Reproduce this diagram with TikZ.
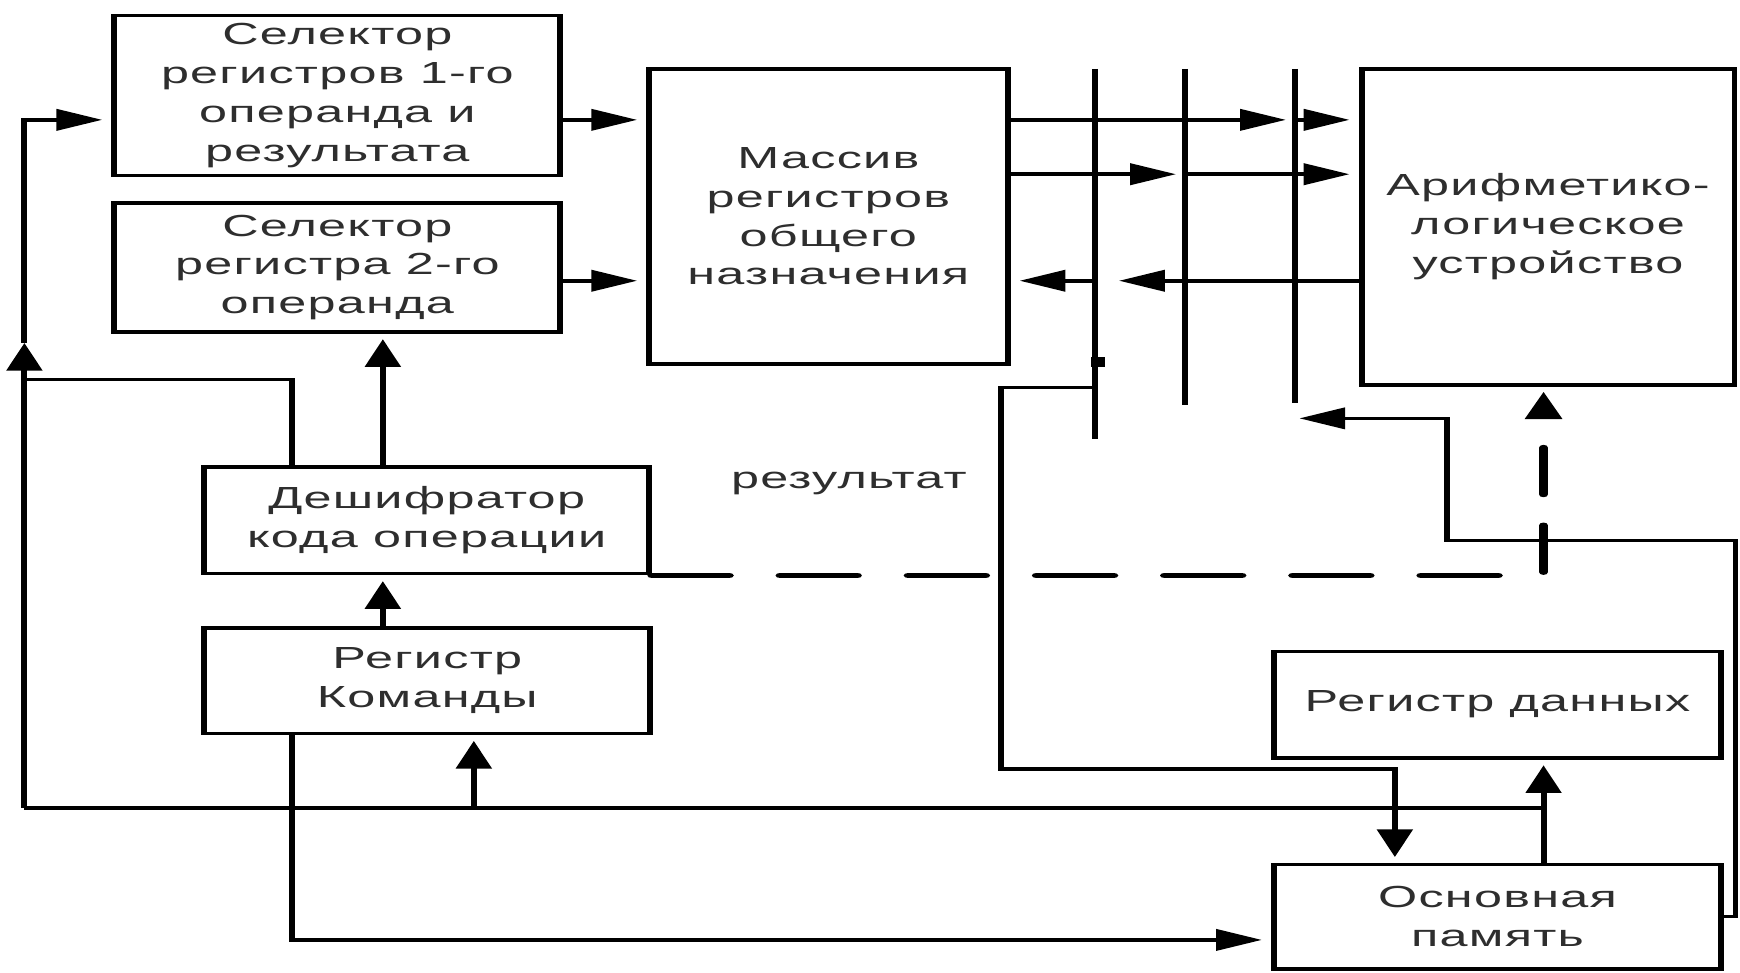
\documentclass[tikz,border=0pt]{standalone}
\usepackage{fontspec}
\setmainfont{Liberation Sans}[LetterSpace=2.5]
\usetikzlibrary{arrows.meta}

\begin{document}
\begin{tikzpicture}[x=0.5pt,y=-0.5pt]
\fill[white] (0,0) rectangle (1568,876);
\useasboundingbox (0,0) rectangle (1568,876);
% the whole scheme is drawn narrow and stretched sideways
\begin{scope}[transform canvas={xscale=1.65}, x=0.303030pt, y=-0.5pt,
  line width=1.6pt,
  txt/.style={inner sep=0pt, align=center, text=black!82, font=\fontsize{13.75pt}{17.5pt}\selectfont},
  bx/.style 2 args={txt, draw=black, line width=1.6pt, minimum width=#1*0.30303pt, minimum height=#2*0.5pt},
  tip/.style={-{Triangle[length=12.5pt,width=9.5pt]}},
  arr/.style={tip, shorten >=2.5pt},
  midarr/.style={tip},
  ctl/.style={line width=2.6pt, line cap=round, dash pattern=on 21pt off 14pt}]

% blocks
\node[bx={402}{144}] (sel1) at (304,86) {Селектор\\регистров 1-го\\операнда и\\результата};
\node[bx={402}{116}] (sel2) at (304,241) {Селектор\\регистра 2-го\\операнда};
\node[bx={323}{266}] (mas) at (746.5,195) {Массив\\регистров\\общего\\назначения};
\node[bx={336}{285}] (alu) at (1395,204.5) {Арифметико-\\логическое\\устройство};
\node[bx={401}{96}] (dec) at (384.5,469) {Дешифратор\\кода операции};
\node[bx={402}{95}] (rk) at (385,613.5) {Регистр\\Команды};
\node[bx={403}{96}] (rd) at (1349.5,635) {Регистр данных};
\node[bx={403}{94}] (mem) at (1349.5,826) {Основная\\память};
\node[txt] (res) at (765,436) {результат};

% internal bus lines
\coordinate (b1t) at (987,62);  \coordinate (b1b) at (987,396);
\coordinate (b2t) at (1068,62); \coordinate (b2b) at (1068,365);
\coordinate (b3t) at (1167,62); \coordinate (b3b) at (1167,363);
\draw (b1t) -- (b1b);
\draw (b2t) -- (b2b);
\draw (b3t) -- (b3b);
\fill (983,322) rectangle (996,331);

% register selectors and register array
\draw[arr] (sel1.east |- 0,108) -- (mas.west |- 0,108);
\draw[arr] (sel2.east |- 0,253) -- (mas.west |- 0,253);
\draw[arr] (mas.east |- 0,108) -- (b3t |- 0,108);
\draw[arr] (b3t |- 0,108) -- (alu.west |- 0,108);
\draw[arr] (mas.east |- 0,157) -- (b2t |- 0,157);
\draw[arr] (b2t |- 0,157) -- (alu.west |- 0,157);
\draw[arr, shorten >=6.5pt] (alu.west |- 0,253) -- (b1t |- 0,253);
\draw[arr] (b1t |- 0,253) -- (mas.east |- 0,253);

% lower data bus and control paths
\coordinate (bl) at (22,728);
\coordinate (dx) at (1391,0);
\draw (bl) -- (dx |- bl);
\draw[midarr] (bl) -- (22,309);
\draw[arr] (22,309) |- (sel1.west |- 0,108);
\draw (dec.north -| 263,0) |- (22,342);
\draw[arr] (dec.north -| 345,0) -- (sel2.south -| 345,0);
\draw[arr] (rk.north -| 345,0) -- (dec.south -| 345,0);
\draw[arr] (bl -| 427,0) -- (rk.south -| 427,0);
\draw[arr] (rk.south -| 263,0) |- (mem.west |- 0,847);
\draw[arr] (mem.north -| dx) -- (rd.south -| dx);

% result to memory, memory to bus
\draw[arr] (b1t |- 0,349) -- (902,349) |- (1257,693) -- (mem.north -| 1257,0);
\draw[arr, shorten >=1.2pt] (mem.east) -| (1564,487) -| (1304,377) -- (b3t |- 0,377);

% operation code to the ALU
\draw[ctl, tip, shorten >=2pt] (dec.south east) -| (dx |- alu.south);
\end{scope}
\end{tikzpicture}
\end{document}
